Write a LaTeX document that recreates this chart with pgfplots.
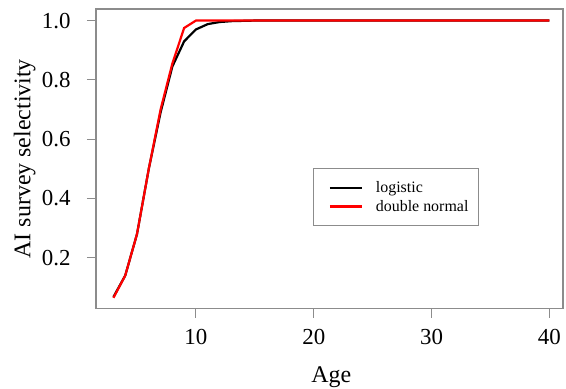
\documentclass[border=0pt]{standalone}
\usepackage{fontspec}
\setmainfont{Liberation Serif}
\usepackage{pgfplots}
\pgfplotsset{compat=1.18}
\definecolor{axgray}{HTML}{8C8C8C}
\begin{document}
\begin{tikzpicture}
\path[use as bounding box] (-96bp,-80.5bp) rectangle (470bp,308.5bp);
\begin{axis}[
  scale only axis,
  width=467bp, height=299.5bp,
  xmin=1.52, xmax=41.15, ymin=0.029, ymax=1.039,
  xtick={10,20,30,40}, ytick={0.2,0.4,0.6,0.8,1.0},
  yticklabel style={/pgf/number format/fixed,/pgf/number format/fixed zerofill,/pgf/number format/precision=1},
  /pgf/number format/assume math mode=true,
  axis line style={draw=axgray, line width=1.3bp},
  tick style={draw=axgray, line width=1.1bp},
  major tick length=9bp,
  tick align=outside,
  xtick pos=bottom, ytick pos=left,
  font=\fontsize{23}{27}\selectfont,
  tick label style={font=\fontsize{23}{27}\selectfont},
  xticklabel style={yshift=-8bp},
  yticklabel style={xshift=-13bp},
  xlabel={Age}, ylabel={AI survey selectivity},
  label style={font=\fontsize{24}{28}\selectfont},
  xlabel style={at={(axis description cs:0.504,-0.230)}, anchor=center},
  ylabel style={at={(axis description cs:-0.153,0.5)}, anchor=center, rotate=0},
  legend style={at={(0.465,0.469)}, anchor=north west, draw=axgray, line width=1.1bp,
    font=\fontsize{16}{19}\selectfont, inner xsep=8bp, inner ysep=11bp, row sep=2bp,
    nodes={inner sep=2bp},
    /tikz/every odd column/.append style={column sep=11bp}},
  legend cell align=left,
  legend image code/.code={\path (0bp,0bp); \draw[#1, line width=2.2bp] (7bp,0bp) -- (39bp,0bp);},
]
\addplot[black, line width=2.2bp] coordinates {
(3,0.068) (4,0.14) (5,0.28) (6,0.50) (7,0.69) (8,0.845) (9,0.93) (10,0.97)
(11,0.988) (12,0.995) (13,0.998) (14,0.999) (15,1.0) (16,1.0) (17,1.0) (18,1.0)
(19,1.0) (20,1.0) (21,1.0) (22,1.0) (23,1.0) (24,1.0) (25,1.0) (26,1.0) (27,1.0)
(28,1.0) (29,1.0) (30,1.0) (31,1.0) (32,1.0) (33,1.0) (34,1.0) (35,1.0) (36,1.0)
(37,1.0) (38,1.0) (39,1.0) (40,1.0)};
\addlegendentry{logistic}
\addplot[red, line width=2.2bp] coordinates {
(3,0.065) (4,0.14) (5,0.28) (6,0.50) (7,0.70) (8,0.855) (9,0.975) (10,1.0)
(11,1.0) (12,1.0) (13,1.0) (14,1.0) (15,1.0) (16,1.0) (17,1.0) (18,1.0)
(19,1.0) (20,1.0) (21,1.0) (22,1.0) (23,1.0) (24,1.0) (25,1.0) (26,1.0) (27,1.0)
(28,1.0) (29,1.0) (30,1.0) (31,1.0) (32,1.0) (33,1.0) (34,1.0) (35,1.0) (36,1.0)
(37,1.0) (38,1.0) (39,1.0) (40,1.0)};
\addlegendentry{double normal}
\end{axis}
\end{tikzpicture}
\end{document}
